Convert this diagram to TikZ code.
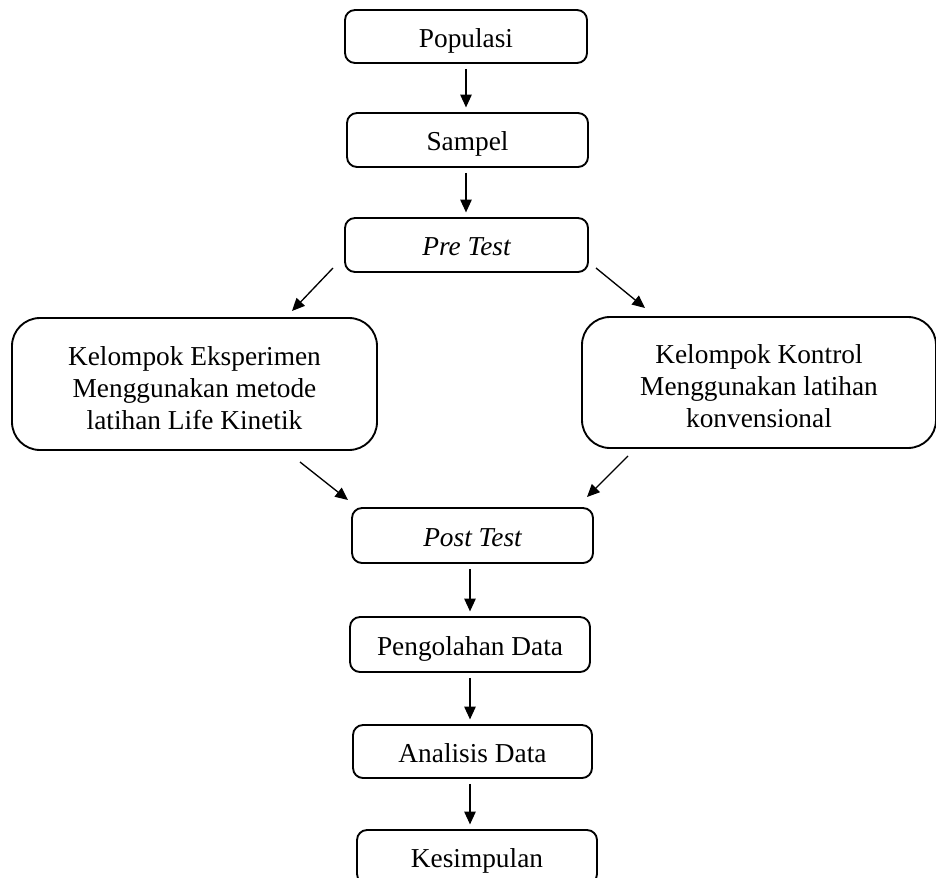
\documentclass[tikz,border=0pt]{standalone}
\usepackage{fontspec}
\setmainfont{Liberation Serif}
\usetikzlibrary{arrows.meta}
\begin{document}
\begin{tikzpicture}[x=0.75pt,y=-0.75pt,
  box/.style={draw, line width=1.4pt, rounded corners=7.5pt, inner sep=0pt,
    font=\fontsize{20.5}{24}\selectfont, align=center, text height=16pt, text depth=0pt},
  bigbox/.style={draw, line width=1.4pt, rounded corners=21pt, inner sep=0pt,
    font=\fontsize{20.5}{24}\selectfont, align=center},
  arr/.style={line width=1pt, -{Triangle[length=9.5pt,width=8.5pt]},
    shorten <=3.75pt, shorten >=3.5pt},
  darr/.style={arr, shorten <=0pt, shorten >=0pt}]
\clip (0,0) rectangle (936,878);
\fill[white] (0,0) rectangle (936,878);
\node[box, minimum width=181.5pt, minimum height=39.75pt] (pop) at (466,36.5) {Populasi};
\node[box, minimum width=180.75pt, minimum height=40.5pt] (sam) at (467.5,140) {Sampel};
\node[box, minimum width=182.25pt, minimum height=40.5pt] (pre) at (466.5,245) {\itshape Pre Test};
\node[bigbox, minimum width=273.75pt, minimum height=99pt] (eks) at (194.5,384)
  {\rule{0pt}{20pt}Kelompok Eksperimen\\Menggunakan metode\\latihan Life Kinetik};
\node[bigbox, minimum width=265.5pt, minimum height=98.25pt] (kon) at (759,382.5)
  {\rule{0pt}{20pt}Kelompok Kontrol\\Menggunakan latihan\\konvensional};
\node[box, minimum width=180.75pt, minimum height=41.25pt] (post) at (472.5,535.5) {\itshape Post Test};
\node[box, minimum width=180pt, minimum height=41.25pt] (peng) at (470,644.5) {Pengolahan Data};
\node[box, minimum width=179.25pt, minimum height=39.75pt] (ana) at (472.5,751.5) {Analisis Data};
\node[box, minimum width=180pt, minimum height=40.5pt] (kes) at (477,857) {Kesimpulan};
% vertical arrows
\draw[arr] (pop.south) -- (pop.south |- sam.north);
\draw[arr] (sam.south -| pop.south) -- (pre.north -| pop.south);
\draw[arr] (post.south -| peng.north) -- (peng.north);
\draw[arr] (peng.south) -- (ana.north -| peng.south);
\draw[arr] (ana.south -| peng.south) -- (kes.north -| peng.south);
% diagonal arrows
\coordinate (d1s) at (333,268); \coordinate (d1e) at (292,311);
\coordinate (d2s) at (596,268); \coordinate (d2e) at (645,308);
\coordinate (d3s) at (300,462); \coordinate (d3e) at (348,500);
\coordinate (d4s) at (628,456); \coordinate (d4e) at (587,497);
\draw[darr] (d1s) -- (d1e);
\draw[darr] (d2s) -- (d2e);
\draw[darr] (d3s) -- (d3e);
\draw[darr] (d4s) -- (d4e);
\end{tikzpicture}
\end{document}
